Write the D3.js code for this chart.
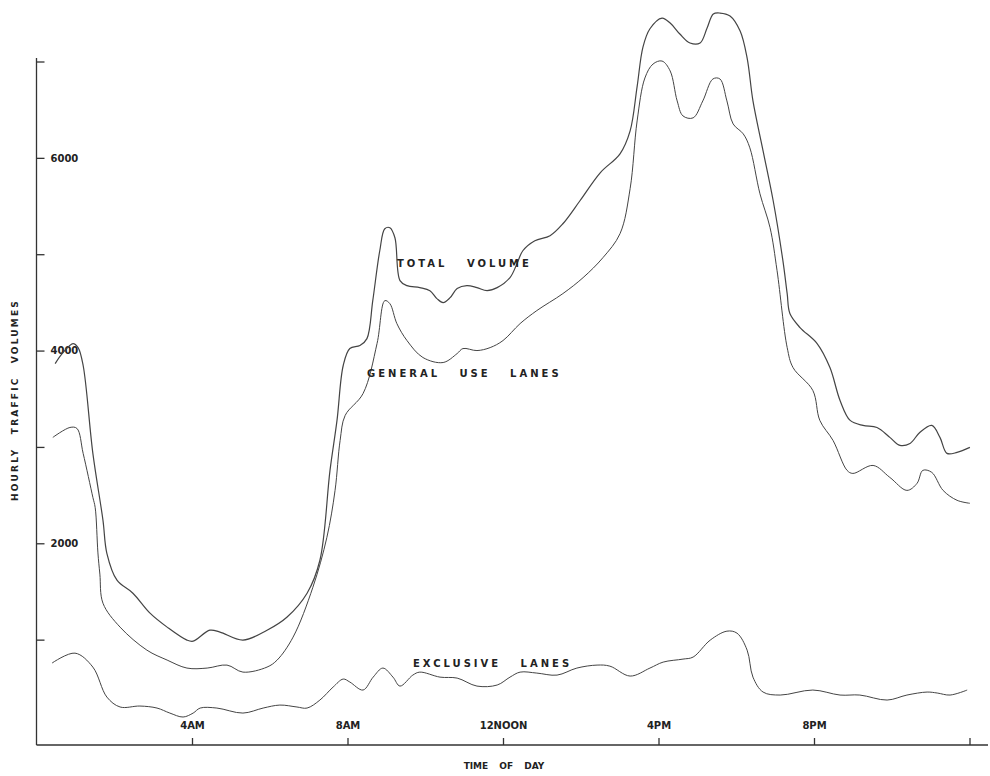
<!DOCTYPE html>
<html>
<head>
<meta charset="utf-8">
<script src="https://cdn.jsdelivr.net/npm/d3@7"></script>
<style>
  body { margin: 0; background: #fff; }
  svg { display: block; }
  .lbl { font-family: 'DejaVu Sans', sans-serif; font-weight: bold; fill: #222; }
</style>
</head>
<body>
<svg width="990" height="776"></svg>
<script>
// values: [hour of day, vehicles per hour]
const totalVolume = [
  [0.48, 3865], [0.68, 3979], [0.94, 4073], [1.07, 4031], [1.2, 3845], [1.45, 2933],
  [1.71, 2238], [1.81, 1896], [2.07, 1617], [2.48, 1482], [2.92, 1275], [3.36, 1130],
  [3.87, 995], [4.03, 984], [4.46, 1098], [4.72, 1078], [5.31, 995], [5.93, 1098],
  [6.44, 1233], [6.96, 1482], [7.29, 1824], [7.55, 2757], [7.73, 3275], [7.89, 3845],
  [8.06, 4021], [8.32, 4052], [8.5, 4124], [8.65, 4518], [8.83, 5036], [8.96, 5264],
  [9.09, 5275], [9.22, 5171], [9.35, 4726], [9.53, 4674], [9.86, 4653], [10.12, 4622],
  [10.3, 4539], [10.46, 4498], [10.64, 4549], [10.82, 4643], [11.07, 4674], [11.33, 4653],
  [11.59, 4622], [11.85, 4653], [12.18, 4757], [12.36, 4902], [12.51, 5036], [12.82, 5140],
  [13.21, 5192], [13.54, 5316], [13.98, 5555], [14.5, 5845], [15.01, 6042], [15.27, 6280],
  [15.45, 6740], [15.6, 7150], [15.78, 7340], [16.09, 7451], [16.3, 7399], [16.55, 7285],
  [16.81, 7192], [17.07, 7192], [17.25, 7347], [17.41, 7493], [17.58, 7503], [17.84, 7472],
  [18.1, 7316], [18.28, 7036], [18.43, 6591], [18.69, 6073], [18.95, 5555], [19.2, 4933],
  [19.31, 4591], [19.38, 4384], [19.64, 4239], [20.08, 4073], [20.41, 3824], [20.67, 3482],
  [20.93, 3275], [21.26, 3223], [21.62, 3202], [21.95, 3099], [22.21, 3016], [22.47, 3036],
  [22.72, 3150], [23.03, 3223], [23.24, 3099], [23.42, 2933], [23.68, 2943], [24.01, 2995]
]

const generalUse = [
  [0.42, 3099], [0.86, 3202], [1.04, 3192], [1.2, 2933], [1.45, 2477], [1.51, 2370],
  [1.58, 1900], [1.63, 1680], [1.71, 1378], [2.15, 1130], [2.84, 891], [3.36, 788], [3.87, 705],
  [4.39, 705], [4.9, 736], [5.31, 663], [5.93, 715], [6.19, 788], [6.6, 1026],
  [7.11, 1544], [7.47, 2062], [7.68, 2549], [7.81, 3067], [7.94, 3327], [8.4, 3554],
  [8.76, 4073], [8.96, 4518], [9.09, 4487], [9.27, 4280], [9.53, 4104], [9.94, 3928],
  [10.46, 3876], [10.82, 3969], [10.97, 4021], [11.33, 4000], [11.67, 4031], [12.0, 4104],
  [12.44, 4280], [12.87, 4415], [13.54, 4591], [14.06, 4757], [14.57, 4964], [15.01, 5213],
  [15.27, 5680], [15.45, 6383], [15.65, 6829], [15.86, 6974], [16.09, 7005], [16.3, 6902],
  [16.48, 6591], [16.63, 6435], [16.89, 6415], [17.14, 6591], [17.4, 6819], [17.58, 6819],
  [17.76, 6591], [17.92, 6352], [18.18, 6249], [18.35, 6104], [18.61, 5627], [18.87, 5275],
  [19.05, 4829], [19.31, 4031], [19.46, 3824], [19.97, 3586], [20.15, 3275], [20.49, 3067],
  [20.85, 2757], [21.0, 2725], [21.52, 2808], [21.95, 2684], [22.39, 2549], [22.65, 2622],
  [22.8, 2757], [23.03, 2736], [23.32, 2549], [23.68, 2446], [24.01, 2415]
]

const exclusive = [
  [0.4, 757], [0.99, 860], [1.45, 715], [1.81, 404], [2.15, 301], [2.66, 311],
  [3.1, 290], [3.43, 238], [3.77, 197], [4.03, 238], [4.21, 290], [4.64, 290],
  [5.31, 238], [5.83, 290], [6.26, 321], [6.7, 301], [6.96, 290], [7.29, 373],
  [7.63, 508], [7.89, 591], [8.06, 560], [8.4, 477], [8.66, 611], [8.91, 705],
  [9.17, 611], [9.35, 518], [9.68, 632], [9.86, 663], [10.38, 611], [10.82, 601],
  [11.33, 518], [11.85, 529], [12.18, 611], [12.44, 663], [12.87, 653], [13.39, 632],
  [13.9, 705], [14.42, 736], [14.75, 725], [15.27, 622], [15.78, 705], [16.12, 767],
  [16.63, 798], [16.89, 819], [17.33, 995], [17.76, 1088], [18.02, 1067], [18.28, 891],
  [18.43, 611], [18.69, 456], [19.13, 425], [19.97, 477], [20.67, 425], [21.18, 425],
  [21.88, 373], [22.39, 425], [22.91, 456], [23.17, 446], [23.5, 425], [23.94, 477]
]

const hourTicks = [4, 8, 12, 16, 20, 24]
const hourLabels = ['4AM', '8AM', '12NOON', '4PM', '8PM', '']
const volumeTicks = [1000, 2000, 3000, 4000, 5000, 6000, 7000]
const volumeLabels = ['', '2000', '', '4000', '', '6000', '']

const svg = d3.select('svg')

const x = d3.scaleLinear().domain([0, 24]).range([36.5, 969.5])
const y = d3.scaleLinear().domain([0, 7000]).range([736, 61.5])
const axisY = 745

// axis lines
svg.append('line')
  .attr('x1', x(0)).attr('x2', x(0))
  .attr('y1', 58).attr('y2', axisY)
  .attr('stroke', '#333').attr('stroke-width', 1.3)
svg.append('line')
  .attr('x1', x(0)).attr('x2', 988)
  .attr('y1', axisY).attr('y2', axisY)
  .attr('stroke', '#333').attr('stroke-width', 1.3)

// y ticks point inward
const yAxis = d3.axisRight(y)
  .tickValues(volumeTicks)
  .tickSize(8)
  .tickPadding(6)
  .tickFormat((d, i) => volumeLabels[i])
let gy = svg.append('g')
  .attr('transform', 'translate(' + x(0) + ',0)')
  .call(yAxis)
gy.select('.domain').remove()
gy.selectAll('line').attr('stroke', '#333').attr('stroke-width', 1.3)
gy.selectAll('text')
  .attr('class', 'lbl')
  .style('font-size', '10px')
  .attr('fill', '#222')

// x ticks point up, labels sit above
const xAxis = d3.axisTop(x)
  .tickValues(hourTicks)
  .tickSize(7)
  .tickPadding(9)
  .tickFormat((d, i) => hourLabels[i])
let gx = svg.append('g')
  .attr('transform', 'translate(0,' + axisY + ')')
  .call(xAxis)
gx.select('.domain').remove()
gx.selectAll('line').attr('stroke', '#333').attr('stroke-width', 1.3)
gx.selectAll('text')
  .attr('class', 'lbl')
  .style('font-size', '10px')
  .attr('fill', '#222')

// curves
const line = d3.line()
  .x(d => x(d[0]))
  .y(d => y(d[1]))
  .curve(d3.curveCatmullRom.alpha(0.5))

const series = [
  { name: 'total', data: totalVolume, w: 1.2 },
  { name: 'general', data: generalUse, w: 1.0 },
  { name: 'exclusive', data: exclusive, w: 1.0 }
]
svg.selectAll('path.series')
  .data(series)
  .enter()
  .append('path')
  .attr('class', 'series')
  .attr('d', d => line(d.data))
  .attr('fill', 'none')
  .attr('stroke', '#444')
  .attr('stroke-width', d => d.w)

// curve labels
const curveLabels = [
  { text: 'TOTAL   VOLUME', x: 397, y: 267 },
  { text: 'GENERAL   USE   LANES', x: 367, y: 377 },
  { text: 'EXCLUSIVE   LANES', x: 413, y: 667 }
]
svg.selectAll('text.curveLabel')
  .data(curveLabels)
  .enter()
  .append('text')
  .attr('class', 'curveLabel lbl')
  .attr('x', d => d.x)
  .attr('y', d => d.y)
  .style('font-size', '10px')
  .style('letter-spacing', '3px')
  .style('white-space', 'pre')
  .text(d => d.text)

// axis titles
svg.append('text')
  .attr('class', 'lbl')
  .attr('x', 504)
  .attr('y', 769)
  .attr('text-anchor', 'middle')
  .style('font-size', '9px')
  .style('word-spacing', '8px')
  .text('TIME OF DAY')

svg.append('text')
  .attr('class', 'lbl')
  .attr('transform', 'translate(18,400) rotate(-90)')
  .attr('text-anchor', 'middle')
  .style('font-size', '9px')
  .style('letter-spacing', '2.2px')
  .style('word-spacing', '8px')
  .text('HOURLY TRAFFIC VOLUMES')
</script>
</body>
</html>
